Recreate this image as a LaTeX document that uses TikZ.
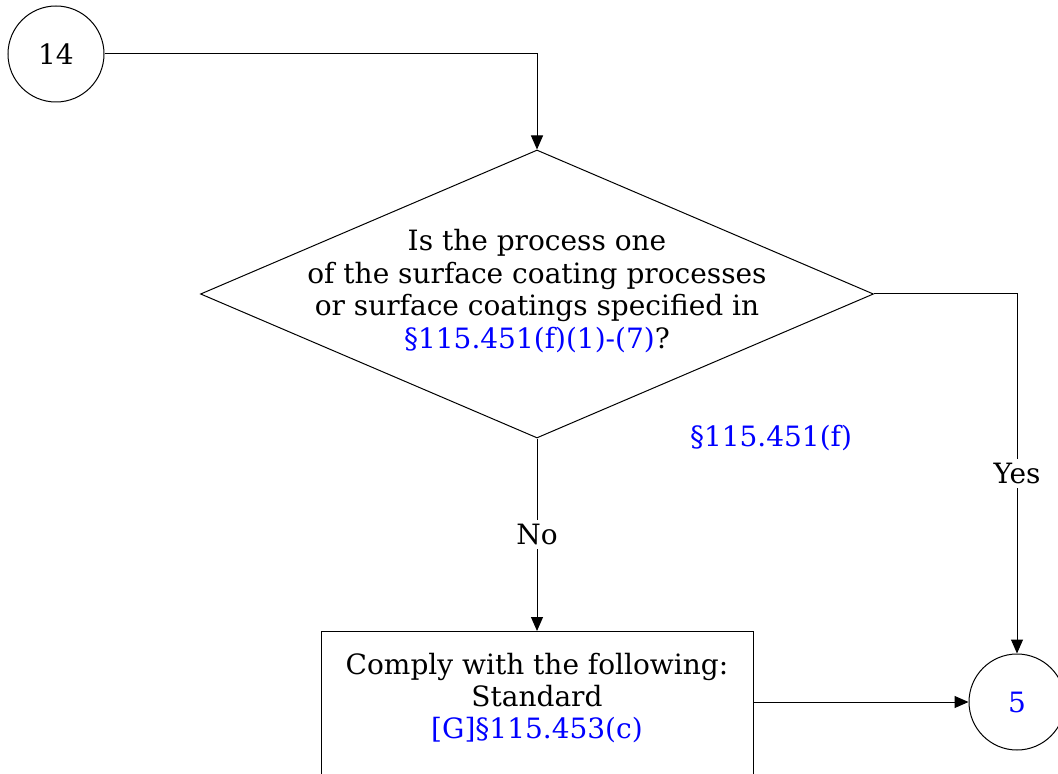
\documentclass[tikz,border=0pt]{standalone}
\usepackage{fontspec}
\setmainfont{DejaVu Serif}
\usetikzlibrary{shapes.geometric,arrows.meta}
\definecolor{refblue}{RGB}{0,0,255}
\begin{document}
\begin{tikzpicture}[x=0.5pt,y=-0.5pt,
  line width=0.5pt,
  txt/.style={font=\fontsize{14}{16.2}\selectfont,align=center,inner sep=1pt},
  conn/.style={-{Triangle[length=7pt,width=6pt]}},
  circ/.style={circle,draw,minimum size=48pt,inner sep=0pt,font=\fontsize{14}{16}\selectfont},
  dia/.style={diamond,draw,minimum width=336.5pt,minimum height=144pt,inner sep=0pt},
  boxsty/.style={rectangle,draw,minimum width=216pt,minimum height=100pt,inner sep=0pt},
  lbl/.style={font=\fontsize{14}{16}\selectfont,fill=white,inner sep=2pt}]
\useasboundingbox (0,0) rectangle (1058,774);
\clip (0,0) rectangle (1058,774);
\node[circ] (c14) at (56,54) {14};
\node[dia] (d1) at (537,294) {};
\node[txt] (d1t) at (537,291) {Is the process one\\of the surface coating processes\\or surface coatings specified in\\\textcolor{refblue}{§115.451(f)(1)-(7)}?};
\node[txt,text=refblue] (ref1) at (771,438) {§115.451(f)};
\node[boxsty,anchor=north] (box) at (537,631) {};
\node[txt] (boxt) at (537,698) {Comply with the following:\\Standard\\\textcolor{refblue}{[G]§115.453(c)}};
\node[circ,text=refblue] (c5) at (1017,702) {5};
\coordinate (k1) at (537,54);
\draw[conn] (c14.east) -- (k1) -- (d1.north);
\draw[conn] (d1.east) -- (d1.east -| c5) -- node[lbl,pos=0.5] (yes) {Yes} (c5.north);
\draw[conn] (d1.south) -- node[lbl,pos=0.5] (no) {No} (box.north);
\draw[conn] (box.east |- c5) -- (c5.west);
\end{tikzpicture}
\end{document}
